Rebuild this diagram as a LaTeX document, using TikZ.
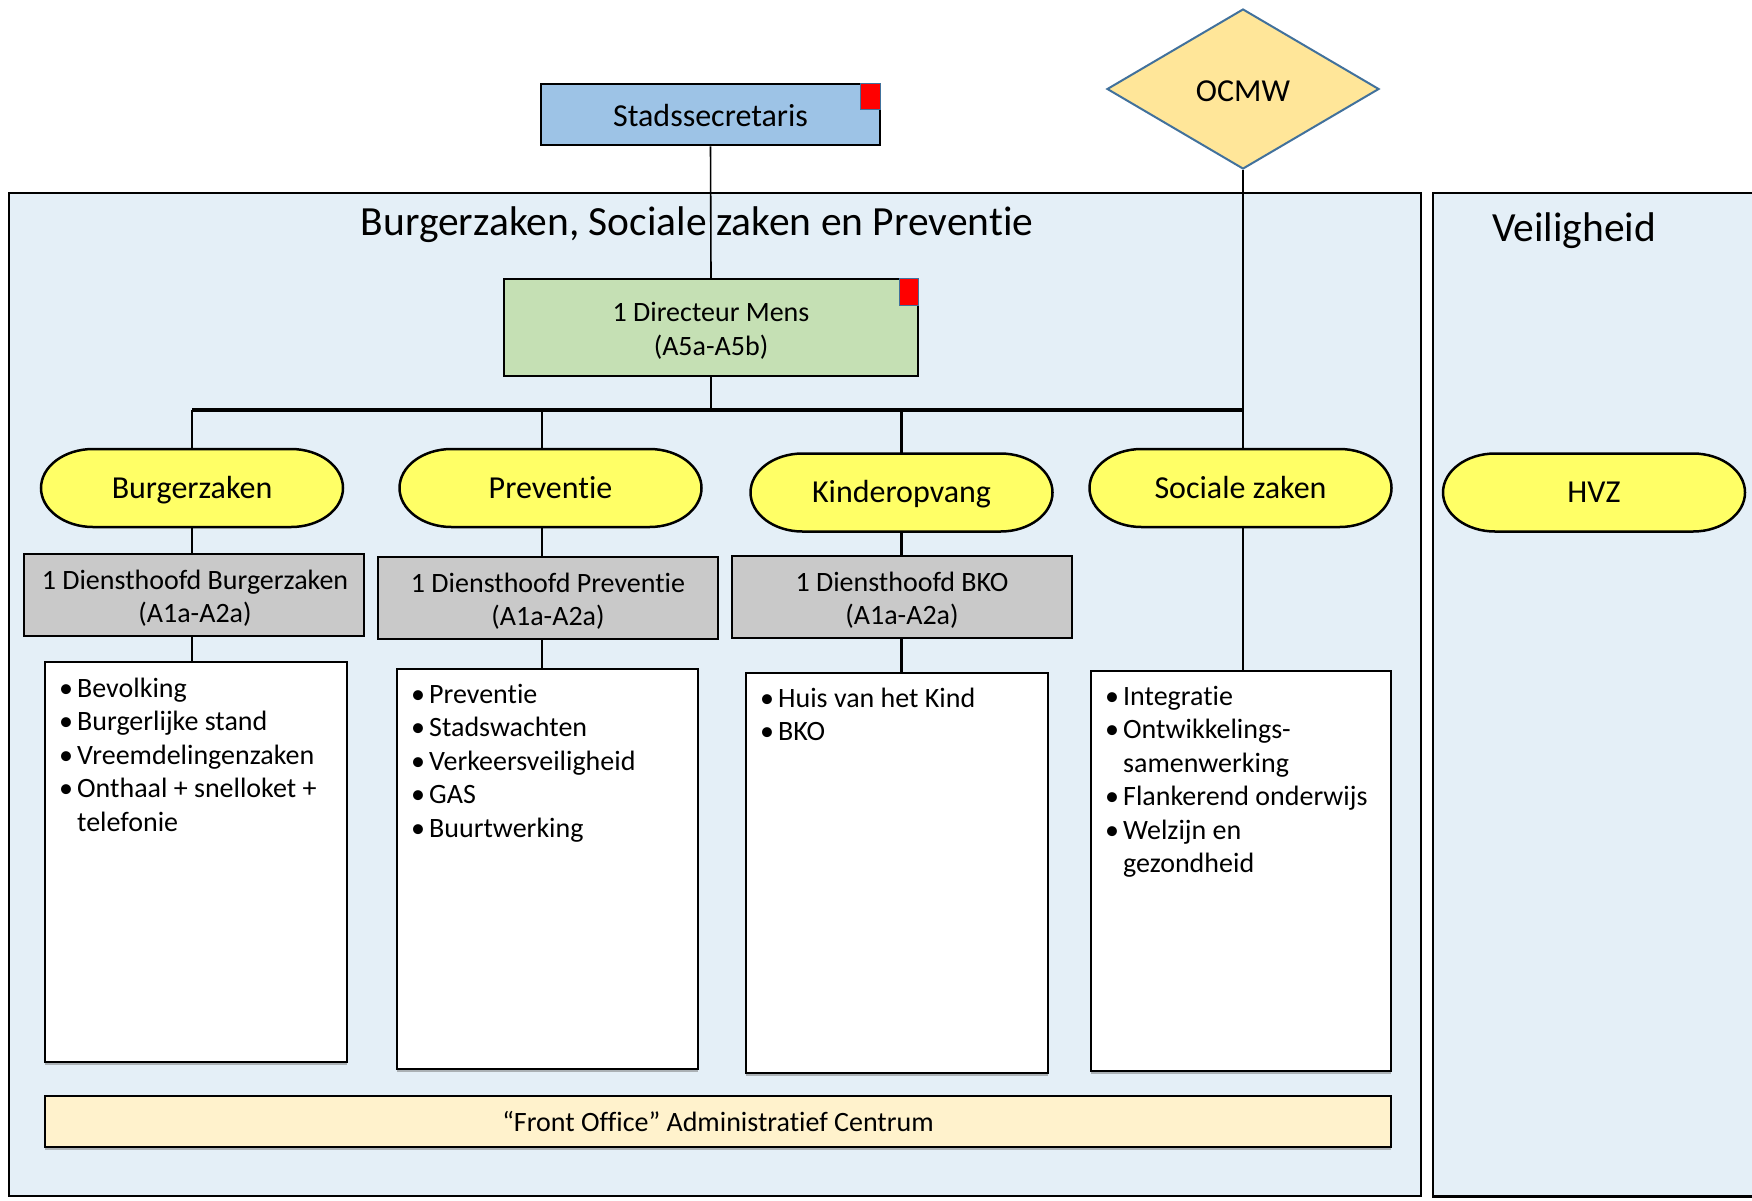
\documentclass[tikz,border=0pt]{standalone}
\usepackage{fontspec}
\setmainfont{Carlito}[Ligatures={NoCommon,NoContextual,NoRequired},Contextuals={NoAlternate}]
\usetikzlibrary{shapes.geometric,shadows}
\definecolor{contblue}{RGB}{228,239,247}
\definecolor{stadblue}{RGB}{157,195,230}
\definecolor{dirgreen}{RGB}{197,224,180}
\definecolor{pillyellow}{RGB}{255,255,102}
\definecolor{headgray}{RGB}{201,201,201}
\definecolor{ocmwyellow}{RGB}{255,230,153}
\definecolor{frontcream}{RGB}{255,242,204}
\definecolor{markblue}{RGB}{65,113,156}
\newcommand\bul{\makebox[18pt][l]{\textbullet}}
\newcommand\mkpill[4]{%
  \begin{scope}[shift={(#2,#3)}]
    \filldraw[pillshape] (-99,-39) -- (99,-39)
      arc[start angle=-90,end angle=90,x radius=52,y radius=39]
      -- (-99,39)
      arc[start angle=90,end angle=270,x radius=52,y radius=39] -- cycle;
    \node[pilltext] (#1) at (0,0) {#4};
  \end{scope}}
\tikzset{
  f28/.style={font=\fontsize{28}{33.5}\selectfont},
  f28d/.style={font=\fontsize{28}{34}\selectfont},
  f32/.style={font=\fontsize{32}{38}\selectfont},
  f41/.style={font=\fontsize{41.5}{48}\selectfont},
  boxline/.style={draw=black, line width=2.5pt},
  thinconn/.style={draw=black, line width=1.6pt},
  conn/.style={draw=black, line width=2.5pt},
  barconn/.style={draw=black, line width=3.5pt},
  plainbox/.style={boxline, rectangle, inner sep=0pt},
  capcenter/.style={text height=20.6pt, text depth=0pt},
  caplow/.style={text height=24pt, text depth=0pt},
  redmark/.style={fill=red, draw=markblue, line width=1.5pt, inner sep=0pt, anchor=north east},
  pillshape/.style={fill=pillyellow, draw=black, line width=2.5pt},
  pilltext/.style={f32, capcenter, inner sep=0pt, minimum width=302pt, minimum height=78pt},
  headbox/.style={plainbox, fill=headgray, minimum width=340pt, minimum height=82pt},
  softshadow/.style={drop shadow={shadow xshift=0pt, shadow yshift=-3pt, opacity=0.45, fill=black!60}},
  listbox/.style={plainbox, fill=white, minimum height=400pt, softshadow},
  txt/.style={inner sep=0pt},
}
\begin{document}
\begin{tikzpicture}[x=1pt,y=-1pt]
\useasboundingbox (0,0) rectangle (1752,1200);
\fill[white] (0,0) rectangle (1752,1200);

% containers
\node[plainbox, fill=contblue, minimum width=1412pt, minimum height=1003pt] (main) at (715,694.5) {};
\node[fill=contblue, inner sep=0pt, minimum width=330pt, minimum height=1003pt, anchor=north west] (veil) at (1433,193) {};
\draw[boxline] (veil.north east) -- (veil.north west) -- (veil.south west) -- (veil.south east);

\node[txt, f41, anchor=base] (maintitle) at (697,235) {Burgerzaken, Sociale zaken en Preventie};
\node[txt, f41, anchor=base] (veiltitle) at (1574,241) {Veiligheid};

% top
\node[plainbox, fill=stadblue, minimum width=339pt, minimum height=61pt, f32, caplow] (stad) at (710.5,114.5) {Stadssecretaris};
\node[redmark, minimum width=20pt, minimum height=26pt] (stadmark) at (stad.north east) {};

\node[diamond, draw=markblue, line width=2pt, fill=ocmwyellow, minimum width=272pt, minimum height=160pt, inner sep=0pt, f32, caplow] (ocmw) at (1243,89) {OCMW};

\node[plainbox, fill=dirgreen, minimum width=414pt, minimum height=97pt] (dir) at (711,327.5) {};
\node[redmark, minimum width=19pt, minimum height=27pt] (dirmark) at (dir.north east) {};
\node[txt, f28d, anchor=base] (dirtext) at (711,321) {\begin{tabular}[t]{@{}c@{}}1 Directeur Mens\\(A5a-A5b)\end{tabular}};

% pills
\mkpill{bz}{192}{488}{Burgerzaken}
\mkpill{pv}{550.5}{488}{Preventie}
\mkpill{ko}{901.5}{492.5}{Kinderopvang}
\mkpill{sz}{1240.5}{488}{Sociale zaken}
\mkpill{hvz}{1594}{492.5}{HVZ}

% department heads
\node[headbox] (gbz) at (194,595) {};
\node[txt, f28, anchor=base] (gbzt) at (195,589) {\begin{tabular}[t]{@{}c@{}}1 Diensthoofd Burgerzaken\\(A1a-A2a)\end{tabular}};
\node[headbox] (gpv) at (548,598) {};
\node[txt, f28, anchor=base] (gpvt) at (548,592) {\begin{tabular}[t]{@{}c@{}}1 Diensthoofd Preventie\\(A1a-A2a)\end{tabular}};
\node[headbox] (gko) at (902,597) {};
\node[txt, f28, anchor=base] (gkot) at (902,591) {\begin{tabular}[t]{@{}c@{}}1 Diensthoofd BKO\\(A1a-A2a)\end{tabular}};

% lists
\node[listbox, minimum width=302pt] (lbz) at (196,862) {};
\node[txt, f28, anchor=base west] (lbzt) at (59,697) {\begin{tabular}[t]{@{}l@{}}\bul Bevolking\\\bul Burgerlijke stand\\\bul Vreemdelingenzaken\\\bul Onthaal + snelloket +\\\hspace*{18pt}telefonie\end{tabular}};
\node[listbox, minimum width=301pt] (lpv) at (547.5,869) {};
\node[txt, f28, anchor=base west] (lpvt) at (411,703) {\begin{tabular}[t]{@{}l@{}}\bul Preventie\\\bul Stadswachten\\\bul Verkeersveiligheid\\\bul GAS\\\bul Buurtwerking\end{tabular}};
\node[listbox, minimum width=302pt] (lko) at (897,873) {};
\node[txt, f28, anchor=base west] (lkot) at (760,707) {\begin{tabular}[t]{@{}l@{}}\bul Huis van het Kind\\\bul BKO\end{tabular}};
\node[listbox, minimum width=300pt] (lsz) at (1241,871) {};
\node[txt, f28, anchor=base west] (lszt) at (1105,705) {\begin{tabular}[t]{@{}l@{}}\bul Integratie\\\bul Ontwikkelings-\\\hspace*{18pt}samenwerking\\\bul Flankerend onderwijs\\\bul Welzijn en\\\hspace*{18pt}gezondheid\end{tabular}};

% front office
\node[plainbox, fill=frontcream, minimum width=1346pt, minimum height=51pt, softshadow] (front) at (718,1121.5) {};
\node[txt, f28, anchor=base] (frontt) at (718,1131) {“Front Office” Administratief Centrum};

% connectors
\coordinate (hub) at (711,410);
\coordinate (xpv) at (542,0);
\draw[thinconn] (stad.south) -- (dir.north);
\draw[thinconn] (dir.south) -- (hub);
\draw[thinconn] (ocmw.south) -- (ocmw.south |- sz.north);
\draw[barconn] (bz.north |- hub) -- (ocmw.south |- hub);
\draw[conn] (bz.north |- hub) -- (bz.north);
\draw[conn] (xpv |- hub) -- (xpv |- pv.north);
\draw[conn] (ko.north |- hub) -- (ko.north);
\draw[conn] (bz.south) -- (bz.south |- gbz.north);
\draw[conn] (bz.south |- gbz.south) -- (bz.south |- lbz.north);
\draw[conn] (xpv |- pv.south) -- (xpv |- gpv.north);
\draw[conn] (xpv |- gpv.south) -- (xpv |- lpv.north);
\draw[conn] (ko.south) -- (ko.south |- gko.north);
\draw[conn] (ko.south |- gko.south) -- (ko.south |- lko.north);
\draw[conn] (ocmw.south |- sz.south) -- (ocmw.south |- lsz.north);
\end{tikzpicture}
\end{document}
